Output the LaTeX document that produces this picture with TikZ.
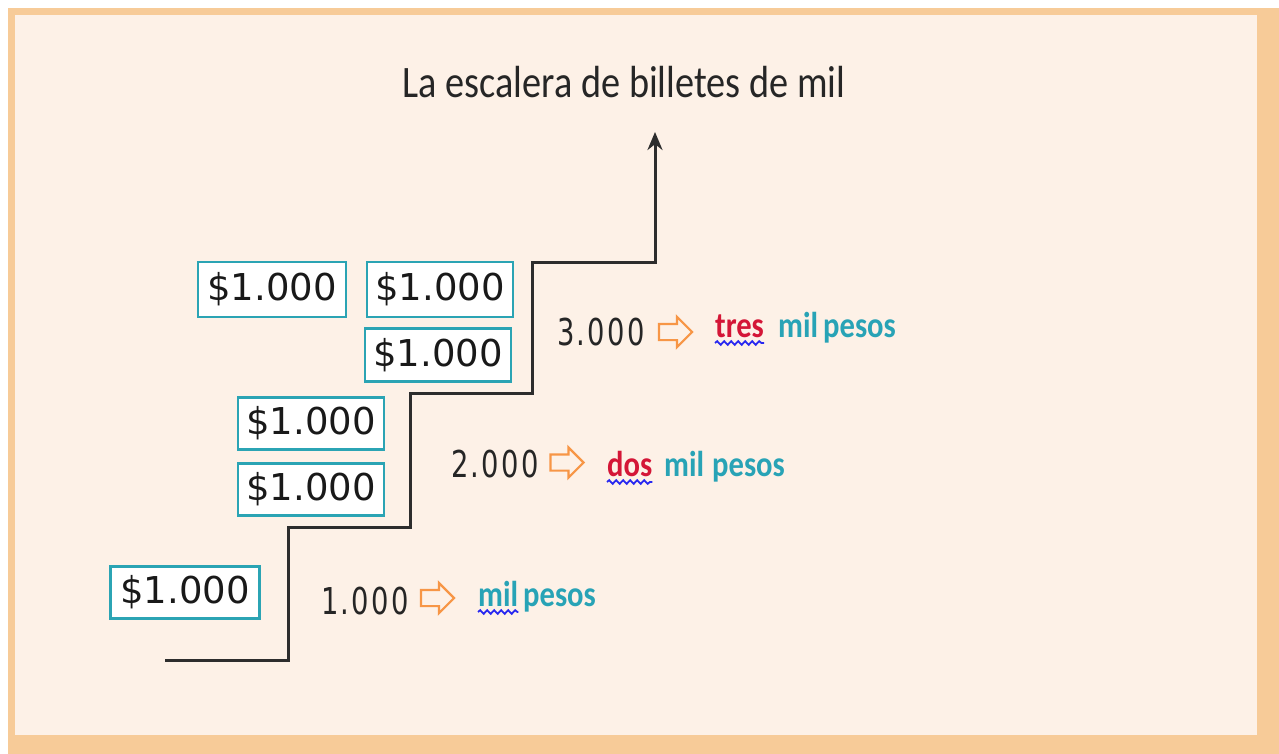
\documentclass[tikz,border=0pt]{standalone}
\usepackage{fontspec}
\setmainfont{DejaVu Sans}
\newfontfamily\titlefont[FakeStretch=0.85]{Carlito}
\newfontfamily\wordfont[FakeStretch=0.85]{Carlito}
\newfontfamily\numfont[FakeStretch=0.74,LetterSpace=6]{DejaVu Sans}
\usetikzlibrary{shapes.arrows,decorations.pathmorphing,arrows.meta}
\definecolor{frameorange}{RGB}{247,203,152}
\definecolor{beige}{RGB}{253,241,231}
\definecolor{billteal}{RGB}{43,164,180}
\definecolor{wordteal}{RGB}{40,163,182}
\definecolor{wordred}{RGB}{212,22,55}
\definecolor{arroworange}{RGB}{247,150,70}
\definecolor{wavyblue}{RGB}{40,40,240}
\definecolor{stairgray}{RGB}{45,45,45}
\tikzset{
  bill/.style={draw=billteal, line width=2.6pt, fill=white, inner sep=0pt,
    font=\fontsize{37}{40}\selectfont, text=black!90},
  numlabel/.style={anchor=base west, inner sep=0pt, font=\numfont\fontsize{37}{40}\selectfont, text=black!85},
  word/.style={anchor=base west, inner sep=0pt, font=\wordfont\bfseries\fontsize{36}{40}\selectfont},
  blockarrow/.style={single arrow, draw=arroworange, line width=2.2pt, minimum height=33pt,
    minimum width=28pt, inner xsep=0pt, inner ysep=7pt, single arrow head extend=7pt},
  stair/.style={draw=stairgray, line width=3pt},
  wavy/.style={draw=wavyblue, line width=1.8pt, decorate,
    decoration={snake, amplitude=1.8pt, segment length=7pt}}
}
\begin{document}
\begin{tikzpicture}[x=1pt,y=-1pt]
\useasboundingbox (0,0) rectangle (1279,754);
% frame
\fill[white] (0,0) rectangle (1279,754);
\fill[frameorange] (8,8) rectangle (1279,754);
\fill[beige] (15,15) rectangle (1257,735);
% title
\node[anchor=base, inner sep=0pt, font=\titlefont\fontsize{45}{50}\selectfont, text=black!85] (title) at (624,98) {La escalera de billetes de mil};
% staircase
\coordinate (s0) at (165,660);
\coordinate (s1) at (288,660);
\coordinate (s2) at (288,527);
\coordinate (s3) at (410,527);
\coordinate (s4) at (410,393);
\coordinate (s5) at (532,393);
\coordinate (s6) at (532,262);
\coordinate (s7) at (655,262);
\coordinate (s8) at (655,132);
\draw[stair, -{Stealth[length=18pt,width=15pt]}] (s0) -- (s1) -- (s2) -- (s3) -- (s4) -- (s5) -- (s6) -- (s7) -- (s8);
% bills
\node[bill, minimum width=148pt, minimum height=55pt] (b1) at (272,289.5) {\$1.000};
\node[bill, minimum width=146pt, minimum height=55pt] (b2) at (440,289.5) {\$1.000};
\node[bill, minimum width=146pt, minimum height=53pt] (b3) at (438,355) {\$1.000};
\node[bill, minimum width=146pt, minimum height=52pt] (b4) at (311,423.5) {\$1.000};
\node[bill, minimum width=146pt, minimum height=52pt] (b5) at (311,489.5) {\$1.000};
\node[bill, minimum width=149pt, minimum height=52pt] (b6) at (185,592.5) {\$1.000};
% row 3
\node[numlabel] (n3) at (557,345) {3.000};
\node[blockarrow] (a3) at (671.5,332) {};
\node[word, text=wordred] (w3a) at (715,337) {tres};
\node[word, text=wordteal] (w3b) at (778,337) {mil};
\node[word, text=wordteal] (w3c) at (823,337) {pesos};
\draw[wavy] ([yshift=-6pt]w3a.base west) -- ([yshift=-6pt]w3a.base east);
% row 2
\node[numlabel] (n2) at (451,477) {2.000};
\node[blockarrow] (a2) at (563,462.5) {};
\node[word, text=wordred] (w2a) at (607,476) {dos};
\node[word, text=wordteal] (w2b) at (664,476) {mil};
\node[word, text=wordteal] (w2c) at (712,476) {pesos};
\draw[wavy] ([yshift=-6pt]w2a.base west) -- ([yshift=-6pt]w2a.base east);
% row 1
\node[numlabel] (n1) at (321,614) {1.000};
\node[blockarrow] (a1) at (433.5,598) {};
\node[word, text=wordteal] (w1a) at (478,606) {mil};
\node[word, text=wordteal] (w1b) at (523,606) {pesos};
\draw[wavy] ([yshift=-6pt]w1a.base west) -- ([yshift=-6pt]w1a.base east);
\end{tikzpicture}
\end{document}
